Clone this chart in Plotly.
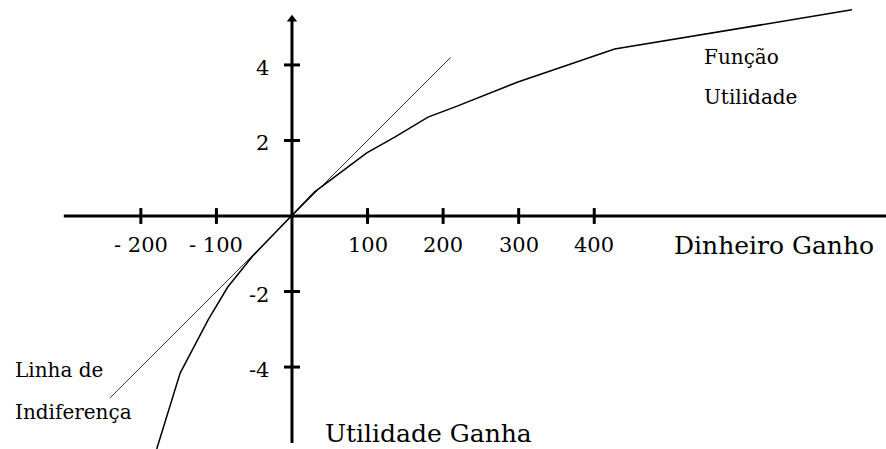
import plotly.graph_objects as go

# ---- data ----
util_x = [-179, -148, -111, -85, -52, 0, 30, 99, 136, 180, 216, 299, 427, 741]
util_y = [-6.17, -4.16, -2.75, -1.88, -1.06, 0, 0.64, 1.67, 2.09, 2.62, 2.89, 3.55, 4.42, 5.46]

indif_x = [-241, 210]
indif_y = [-4.82, 4.20]

x_ticks = [-200, -100, 100, 200, 300, 400]
x_tick_labels = ["- 200", "- 100", "100", "200", "300", "400"]
y_ticks = [4, 2, -2, -4]
y_tick_labels = ["4", "2", "-2", "-4"]

x_axis_extent = [-302, 790]
y_axis_extent = [-6.01, 5.2]
arrow_tip = 5.38

x_title = "Dinheiro Ganho"
y_title = "Utilidade Ganha"
curve_label = ["Função", "Utilidade"]
line_label = ["Linha de", "Indiferença"]

# ---- figure ----
FONT = "DejaVu Serif"
fig = go.Figure()

# axes
fig.add_trace(go.Scatter(x=x_axis_extent, y=[0, 0], mode="lines",
                         line=dict(color="black", width=3), hoverinfo="skip"))
fig.add_trace(go.Scatter(x=[0, 0], y=y_axis_extent, mode="lines",
                         line=dict(color="black", width=3), hoverinfo="skip"))
fig.add_trace(go.Scatter(x=[0], y=[arrow_tip - 0.17], mode="markers",
                         marker=dict(symbol="triangle-up", size=9, color="black"),
                         hoverinfo="skip"))

# ticks
tx, ty = [], []
for v in x_ticks:
    tx += [v, v, None]
    ty += [-0.21, 0.21, None]
fig.add_trace(go.Scatter(x=tx, y=ty, mode="lines",
                         line=dict(color="black", width=3), hoverinfo="skip"))
sx, sy = [], []
for v in y_ticks:
    sx += [-10.6, 10.6, None]
    sy += [v, v, None]
fig.add_trace(go.Scatter(x=sx, y=sy, mode="lines",
                         line=dict(color="black", width=3), hoverinfo="skip"))

# indifference line and utility function
fig.add_trace(go.Scatter(x=indif_x, y=indif_y, mode="lines",
                         line=dict(color="#333333", width=1), hoverinfo="skip"))
fig.add_trace(go.Scatter(x=util_x, y=util_y, mode="lines",
                         line=dict(color="black", width=1.5), hoverinfo="skip"))

ann = []
for v, t in zip(x_ticks, x_tick_labels):
    ann.append(dict(x=v, y=-0.77, text=t, showarrow=False, xanchor="center",
                    yanchor="middle", font=dict(family=FONT, size=21, color="black")))
for v, t in zip(y_ticks, y_tick_labels):
    ann.append(dict(x=-28, y=v, yshift=-3, text=t, showarrow=False, xanchor="right",
                    yanchor="middle", font=dict(family=FONT, size=21, color="black")))

ann.append(dict(x=502.8, y=-0.79, text=x_title, showarrow=False, xanchor="left",
                yanchor="middle", font=dict(family=FONT, size=25, color="black")))
ann.append(dict(x=41, y=-5.77, text=y_title, showarrow=False, xanchor="left",
                yanchor="middle", font=dict(family=FONT, size=25, color="black")))
for t, yy in zip(curve_label, [4.21, 3.15]):
    ann.append(dict(x=542.5, y=yy, text=t, showarrow=False, xanchor="left",
                    yanchor="middle", font=dict(family=FONT, size=20, color="black")))
for t, yy in zip(line_label, [-4.08, -5.19]):
    ann.append(dict(x=-369, y=yy, text=t, showarrow=False, xanchor="left",
                    yanchor="middle", font=dict(family=FONT, size=20, color="black")))

fig.update_layout(
    width=886, height=449, autosize=False,
    margin=dict(l=0, r=0, t=0, b=0),
    paper_bgcolor="white", plot_bgcolor="white",
    showlegend=False,
    xaxis=dict(range=[-386.4, 786.1], visible=False, fixedrange=True),
    yaxis=dict(range=[-6.17, 5.72], visible=False, fixedrange=True),
    annotations=ann,
)

fig.write_html("out.html",
               config={"displayModeBar": False, "staticPlot": True},
               post_script="document.body.style.margin='0';document.body.style.overflow='hidden';")
